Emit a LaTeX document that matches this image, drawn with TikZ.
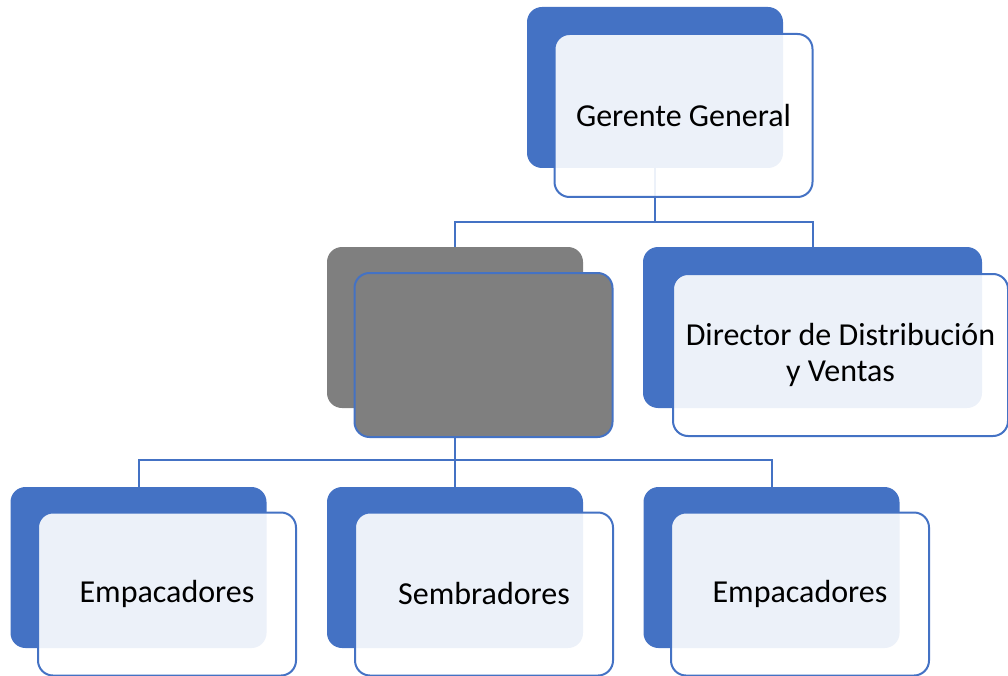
\documentclass[tikz,border=0pt]{standalone}
\usepackage{fontspec}
\setmainfont{Carlito}
\usepackage{xcolor}
\usepackage{tikz}
\usetikzlibrary{positioning}

\definecolor{azul}{HTML}{4472C4}
\definecolor{gris}{HTML}{7F7F7F}

\begin{document}
\begin{tikzpicture}[x=1pt, y=-1pt,
            back/.style={fill=azul, draw=none, rounded corners=15pt, inner sep=0pt, minimum width=256pt, minimum height=161pt},
            front/.style={draw=azul, line width=2pt, fill=white, fill opacity=0.9, text opacity=1, rounded corners=15pt, inner sep=0pt, minimum width=258pt, minimum height=163pt, align=center, font=\fontsize{32}{35.5}\selectfont},
            conn/.style={draw=azul, line width=2pt}]

            \useasboundingbox (0,0) rectangle (1008,676);

            % cajas de fondo
            \node[back] (gerenteB) at (655,87.5) {};
            \node[back, fill=gris] (grisB) at (455,327.5) {};
            \node[back, minimum width=339pt] (directorB) at (812.5,327.5) {};
            \node[back] (empA_B) at (138.5,567.5) {};
            \node[back] (sembB) at (455,567.5) {};
            \node[back] (empB_B) at (771.5,567.5) {};

            % conectores
            \draw[conn] (gerenteB.south) -- ++(0,54) -| (grisB.north);
            \draw[conn] (gerenteB.south) -- ++(0,54) -| (directorB.north);
            \draw[conn] (grisB.south) -- ++(0,52) -| (empA_B.north);
            \draw[conn] (grisB.south) -- (sembB.north);
            \draw[conn] (grisB.south) -- ++(0,52) -| (empB_B.north);

            % cajas de frente
            \node[front] (gerente) at (683.5,115.5) {Gerente General};
            \node[front, fill=gris, fill opacity=1, minimum height=164pt] (grisF) at (483.5,355) {};
            \node[front, minimum width=335pt, minimum height=162pt] (director) at (840.5,355) {Director de Distribución\\y Ventas};
            \node[front] (empA) at (167,594) {Empacadores};
            \node[front] (semb) at (484,594) {Sembradores};
            \node[front] (empB) at (800,594) {Empacadores};
        \end{tikzpicture}
\end{document}
